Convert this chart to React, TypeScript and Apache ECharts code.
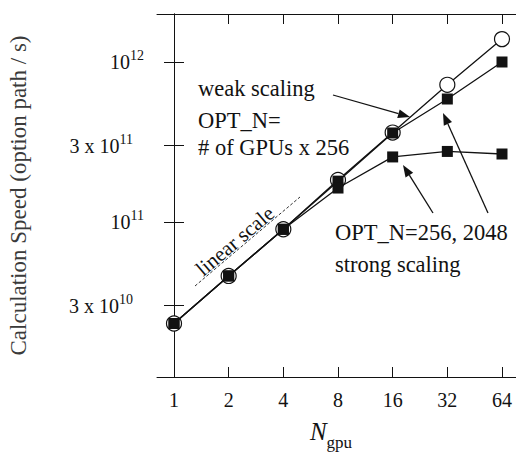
import React, { useEffect, useRef } from 'react';
import * as echarts from 'echarts';

// ---- data ----
const gpuCounts = [1, 2, 4, 8, 16, 32, 64];
const weakScaling = [2.32e10, 4.6e10, 9.0e10, 1.83e11, 3.62e11, 7.2e11, 1.39e12];
const strong2048 = [2.32e10, 4.6e10, 9.0e10, 1.8e11, 3.6e11, 5.87e11, 1.0e12];
const strong256 = [2.32e10, 4.6e10, 9.0e10, 1.63e11, 2.55e11, 2.76e11, 2.66e11];
const yTickValues = [3e10, 1e11, 3e11, 1e12];
const xTickValues = [1, 2, 4, 8, 16, 32, 64];

const FONT = 'Liberation Serif';
const INK = '#121212';

const lx = (n: number) => Math.log2(n);
const ly = (v: number) => Math.log10(v);

const toPoints = (vals: number[]) => gpuCounts.map((n, i) => [lx(n), ly(vals[i])]);

function arrow(x1: number, y1: number, x2: number, y2: number) {
  const dx = x2 - x1, dy = y2 - y1;
  const len = Math.sqrt(dx * dx + dy * dy);
  const ux = dx / len, uy = dy / len;
  const L = 12, W = 4.5;
  const bx = x2 - ux * L, by = y2 - uy * L;
  return [
    { type: 'line', shape: { x1, y1, x2: bx, y2: by }, style: { stroke: INK, lineWidth: 1.3 } },
    {
      type: 'polygon',
      shape: { points: [[x2, y2], [bx - uy * W, by + ux * W], [bx + uy * W, by - ux * W]] },
      style: { fill: INK },
    },
  ];
}

const note = (text: string, x: number, y: number) => ({
  type: 'text',
  x,
  y,
  style: { text, fontFamily: FONT, fontSize: 22.5, fill: INK, align: 'left', verticalAlign: 'middle' },
});

export default function App() {
  const ref = useRef<HTMLDivElement>(null);
  useEffect(() => {
    document.body.style.margin = '0';
    const chart = echarts.init(ref.current!, undefined, { renderer: 'svg' });
    const xMin = -0.311, xMax = 6.311;
    const yMin = 10.031, yMax = 12.3;
    const xTicks = xTickValues.map(lx);
    const yTicks = yTickValues.map(ly);
    const yFormatter = (v: number) => {
      const e = Math.floor(v + 1e-9);
      const m = Math.round(Math.pow(10, v - e));
      return m === 1 ? `{b|10}{s|${e}}` : `{b|${m} x 10}{t|${e}}`;
    };
    const frameLine = { show: true, lineStyle: { color: INK, width: 1 } };
    const axisBase = {
      type: 'value',
      splitLine: { show: false },
      axisLine: frameLine,
    };
    const supStyle = { fontFamily: FONT, fontSize: 14, color: INK, lineHeight: 14, verticalAlign: 'top' };
    const option: any = {
      animation: false,
      backgroundColor: '#fff',
      textStyle: { fontFamily: FONT },
      grid: { left: 157, top: 14, width: 362, height: 363, containLabel: false, outerBoundsMode: 'none' },
      xAxis: [
        {
          ...axisBase,
          position: 'bottom',
          min: xMin,
          max: xMax,
          axisTick: { show: true, inside: true, length: 10, customValues: xTicks, lineStyle: { color: INK } },
          axisLabel: {
            customValues: xTicks,
            formatter: (v: number) => String(Math.round(Math.pow(2, v))),
            fontFamily: FONT,
            fontSize: 20,
            color: INK,
            margin: 13,
          },
          name: '{n|N}{s|gpu}',
          nameLocation: 'middle',
          nameGap: 42,
          nameTextStyle: {
            padding: [0, 14, 0, 0],
            rich: {
              n: { fontFamily: FONT, fontStyle: 'italic', fontSize: 25, color: INK, lineHeight: 32, verticalAlign: 'top' },
              s: { fontFamily: FONT, fontSize: 17, color: INK, lineHeight: 11, verticalAlign: 'bottom' },
            },
          },
        },
        {
          ...axisBase,
          position: 'top',
          min: xMin,
          max: xMax,
          axisTick: { show: true, inside: true, length: 10, customValues: xTicks, lineStyle: { color: INK } },
          axisLabel: { show: false },
        },
      ],
      yAxis: [
        {
          ...axisBase,
          position: 'left',
          min: yMin,
          max: yMax,
          axisTick: { show: true, inside: true, length: 10, customValues: yTicks, lineStyle: { color: INK } },
          axisLabel: {
            customValues: yTicks,
            formatter: yFormatter,
            margin: 13,
            rich: {
              b: { fontFamily: FONT, fontSize: 20, color: INK, lineHeight: 26 },
              s: supStyle,
              t: { ...supStyle, padding: [0, 11, 0, 0] },
            },
          },
          name: 'Calculation Speed (option path / s)',
          nameLocation: 'middle',
          nameRotate: 90,
          nameGap: 127,
          nameTextStyle: { fontFamily: FONT, fontSize: 23, color: '#3a3a3a' },
        },
        {
          ...axisBase,
          position: 'right',
          min: yMin,
          max: yMax,
          axisTick: { show: true, inside: true, length: 10, customValues: yTicks, lineStyle: { color: INK } },
          axisLabel: { show: false },
        },
      ],
      series: [
        {
          name: 'weak scaling',
          type: 'line',
          data: toPoints(weakScaling),
          symbol: 'circle',
          symbolSize: 15,
          itemStyle: { color: '#fff', borderColor: INK, borderWidth: 1.2 },
          lineStyle: { color: INK, width: 1.3 },
          z: 2,
        },
        {
          name: 'OPT_N=2048',
          type: 'line',
          data: toPoints(strong2048),
          symbol: 'rect',
          symbolSize: 11,
          itemStyle: { color: INK },
          lineStyle: { color: INK, width: 1.3 },
          z: 3,
        },
        {
          name: 'OPT_N=256',
          type: 'line',
          data: toPoints(strong256),
          symbol: 'rect',
          symbolSize: 11,
          itemStyle: { color: INK },
          lineStyle: { color: INK, width: 1.3 },
          z: 3,
        },
      ],
      graphic: [
        note('weak scaling', 198, 88),
        note('OPT_N=', 198, 120),
        note('# of GPUs x 256', 198, 147),
        note('OPT_N=256, 2048', 335, 232),
        note('strong scaling', 335, 264),
        { type: 'text', x: 235, y: 241, rotation: 0.703, style: { text: 'linear scale', fontFamily: FONT, fontSize: 21, fill: INK, align: 'center', verticalAlign: 'middle' } },
        { type: 'line', shape: { x1: 195, y1: 286, x2: 300, y2: 197 }, style: { stroke: '#333', lineWidth: 1, lineDash: [3, 2] } },
        ...arrow(333, 95, 410, 117),
        ...arrow(433, 213, 403, 165),
        ...arrow(488, 213, 443, 113),
      ],
    };
    chart.setOption(option);
    return () => chart.dispose();
  }, []);
  return <div ref={ref} style={{ width: 516, height: 452 }} />;
}
